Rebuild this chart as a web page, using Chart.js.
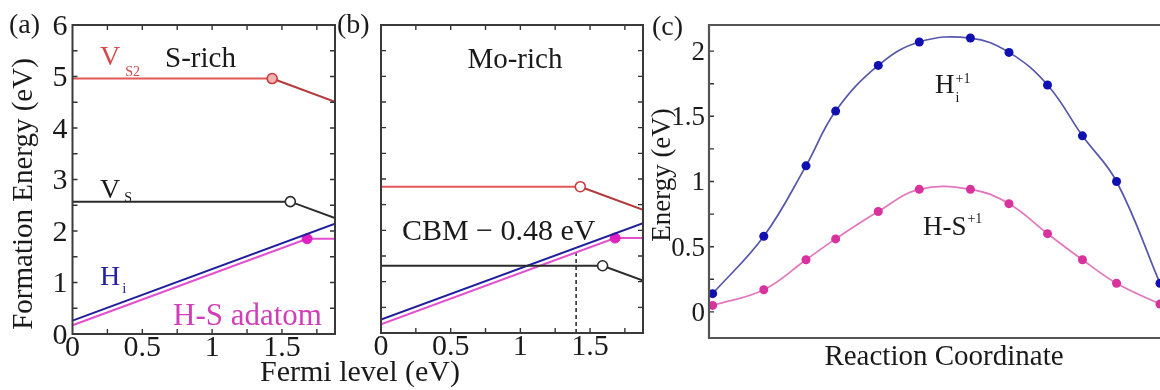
<!DOCTYPE html>
<html>
<head>
<meta charset="utf-8">
<script src="https://cdn.jsdelivr.net/npm/chart.js@4.4.1/dist/chart.umd.min.js"></script>
<style>
  html, body { margin: 0; padding: 0; background: #fff; overflow: hidden; width: 1160px; height: 390px; }
  canvas { position: absolute; left: 0; top: 0; }
</style>
</head>
<body>
<canvas id="panelA" width="1160" height="390"></canvas>
<canvas id="panelB" width="1160" height="390"></canvas>
<canvas id="panelC" width="1200" height="390"></canvas>
<script>
// ---- Fermi-level axes (panels a, b) ----
const fermiMax = 1.88;
const fermiTicks = [0, 0.5, 1, 1.5];
const fermiMinorTicks = [0.25, 0.5, 0.75, 1, 1.25, 1.5, 1.75];
const formationTicks = [0, 1, 2, 3, 4, 5, 6];
const formationMinorTicks = [0.5, 1, 1.5, 2, 2.5, 3, 3.5, 4, 4.5, 5, 5.5];

// S-rich formation energies (eV) vs Fermi level (eV)
const vs2FermiA = [0, 1.43, 1.88];
const vs2EnergyA = [4.96, 4.96, 4.51];
const vsFermiA = [0, 1.56, 1.88];
const vsEnergyA = [2.57, 2.57, 2.25];

// Mo-rich formation energies (eV)
const vs2FermiB = [0, 1.43, 1.88];
const vs2EnergyB = [2.85, 2.85, 2.40];
const vsFermiB = [0, 1.59, 1.88];
const vsEnergyB = [1.31, 1.31, 1.02];

// Hydrogen defects (same in both limits)
const hiFermi = [0, 1.88];
const hiEnergy = [0.26, 2.14];
const hsFermi = [0, 1.68, 1.88];
const hsEnergy = [0.17, 1.85, 1.85];

// CBM - 0.48 eV marker
const cbmMarkFermi = [1.40, 1.40];
const cbmMarkEnergy = [0, 1.56];

// ---- Migration barriers (panel c) ----
const reactionCoord = [0, 1.26, 2.30, 3.03, 4.08, 5.09, 6.35, 7.30, 8.25, 9.11, 9.95, 11.02];
const hiBarrier = [0.14, 0.58, 1.12, 1.54, 1.89, 2.07, 2.10, 1.99, 1.74, 1.35, 1.00, 0.22];
const hsBarrier = [0.05, 0.17, 0.40, 0.56, 0.77, 0.94, 0.94, 0.83, 0.60, 0.40, 0.22, 0.06];
const barrierTicks = [0, 0.5, 1, 1.5, 2];
const barrierMinorTicks = [0, 0.25, 0.5, 0.75, 1, 1.25, 1.5, 1.75, 2];

const FONT = '"Liberation Serif", "Times New Roman", serif';
const zip = (xs, ys) => xs.map((x, i) => ({ x, y: ys[i] }));

// Draws a sequence of text runs (for sub/superscripts)
function drawRuns(ctx, x, y, runs, color) {
  let cx = x;
  for (const r of runs) {
    ctx.font = `${r.size}px ${FONT}`;
    ctx.fillStyle = r.color || color;
    ctx.fillText(r.t, cx + (r.dx || 0), y + (r.dy || 0));
    if (!r.stay) cx += (r.dx || 0) + ctx.measureText(r.t).width;
  }
}

// Box frame, inward ticks and tick labels
const framePlugin = {
  id: 'frame',
  afterDatasetsDraw(chart, args, o) {
    const { ctx, chartArea: a, scales: { x, y } } = chart;
    ctx.save();
    ctx.strokeStyle = o.color;
    ctx.lineWidth = o.tickWidth;
    const L = o.tickLen;
    ctx.beginPath();
    for (const v of (o.xMinor || [])) {
      const px = x.getPixelForValue(v);
      if (o.tickSides.includes('bottom')) { ctx.moveTo(px, a.bottom); ctx.lineTo(px, a.bottom - L); }
      if (o.tickSides.includes('top')) { ctx.moveTo(px, a.top); ctx.lineTo(px, a.top + L); }
    }
    for (const v of (o.yMinor || [])) {
      const py = y.getPixelForValue(v);
      if (o.tickSides.includes('left')) { ctx.moveTo(a.left, py); ctx.lineTo(a.left + L, py); }
      if (o.tickSides.includes('right')) { ctx.moveTo(a.right, py); ctx.lineTo(a.right - L, py); }
    }
    ctx.stroke();

    ctx.lineWidth = o.borderWidth;
    ctx.strokeStyle = o.borderColor;
    ctx.beginPath();
    if (o.sides.includes('top')) { ctx.moveTo(a.left, a.top); ctx.lineTo(a.right, a.top); }
    if (o.sides.includes('bottom')) { ctx.moveTo(a.left, a.bottom); ctx.lineTo(a.right, a.bottom); }
    if (o.sides.includes('left')) { ctx.moveTo(a.left, a.top - o.borderWidth / 2); ctx.lineTo(a.left, a.bottom + o.borderWidth / 2); }
    if (o.sides.includes('right')) { ctx.moveTo(a.right, a.top - o.borderWidth / 2); ctx.lineTo(a.right, a.bottom + o.borderWidth / 2); }
    ctx.stroke();

    ctx.fillStyle = o.textColor;
    ctx.font = `${o.labelSize}px ${FONT}`;
    if (o.xLabels) {
      ctx.textAlign = 'center';
      ctx.textBaseline = 'alphabetic';
      for (const v of o.xLabels) ctx.fillText(String(v), x.getPixelForValue(v), a.bottom + o.xLabelDrop);
    }
    if (o.yLabels) {
      ctx.textAlign = 'right';
      ctx.textBaseline = 'alphabetic';
      for (const v of o.yLabels) ctx.fillText(String(v), a.left - o.yLabelGap, y.getPixelForValue(v) + o.labelSize * 0.33);
    }
    ctx.restore();
  },
  afterDraw(chart, args, o) {
    const { ctx, scales: { x, y } } = chart;
    ctx.save();
    ctx.textBaseline = 'alphabetic';
    for (const it of (o.notes || [])) {
      ctx.save();
      const px = it.data ? x.getPixelForValue(it.data[0]) : it.px[0];
      const py = it.data ? y.getPixelForValue(it.data[1]) : it.px[1];
      ctx.translate(px, py);
      if (it.rot) ctx.rotate(it.rot);
      ctx.textAlign = it.align || 'left';
      if (it.align === 'center') ctx.textBaseline = 'middle';
      drawRuns(ctx, 0, 0, it.runs, it.color || o.textColor);
      ctx.restore();
    }
    ctx.restore();
  }
};
Chart.register(framePlugin);

function baseOptions(padding, xr, yr, frame) {
  return {
    responsive: false,
    animation: false,
    events: [],
    layout: { padding },
    plugins: { legend: { display: false }, tooltip: { enabled: false }, frame },
    scales: {
      x: { type: 'linear', display: false, min: xr[0], max: xr[1] },
      y: { type: 'linear', display: false, min: yr[0], max: yr[1] }
    }
  };
}

const RED = '#e25757', RED_DARK = '#b23a3a', BLACK = '#2b2b2b', BLUE = '#1f1f9c', MAG = '#e24fcf';

function seg(xs, ys, color, opts = {}) {
  return Object.assign({
    data: zip(xs, ys),
    borderColor: color,
    borderWidth: 2,
    pointRadius: 0,
    fill: false,
    tension: 0
  }, opts);
}
function marker(n, idx, r) { return Array.from({ length: n }, (_, i) => (i === idx ? r : 0)); }

const abFrame = (yLabels, notes) => ({
  color: '#333', tickWidth: 1.4, tickLen: 5, borderWidth: 2, borderColor: '#3a3a3a',
  sides: ['top', 'bottom', 'left', 'right'], tickSides: ['top', 'bottom', 'left', 'right'],
  xMinor: fermiMinorTicks, yMinor: formationMinorTicks,
  xLabels: fermiTicks, yLabels, labelSize: 30, xLabelDrop: 22, yLabelGap: 5,
  textColor: '#1a1a1a', notes
});

function defectDatasets(vs2F, vs2E, vsF, vsE, circleFill) {
  return [
    seg(vs2F, vs2E, RED, {
      segment: { borderColor: c => (c.p0DataIndex >= 1 ? RED_DARK : RED) },
      pointRadius: marker(3, 1, 5), pointBorderColor: '#c83c3c', pointBackgroundColor: circleFill, pointBorderWidth: 1.6
    }),
    seg(vsF, vsE, BLACK, {
      pointRadius: marker(3, 1, 5), pointBorderColor: BLACK, pointBackgroundColor: '#fff', pointBorderWidth: 1.6
    }),
    seg(hiFermi, hiEnergy, BLUE),
    seg(hsFermi, hsEnergy, MAG, {
      pointRadius: marker(3, 1, 5), pointBorderColor: '#e020c0', pointBackgroundColor: '#e020c0', pointBorderWidth: 1
    })
  ];
}

// (a) S-rich
new Chart(document.getElementById('panelA'), {
  type: 'line',
  data: { datasets: defectDatasets(vs2FermiA, vs2EnergyA, vsFermiA, vsEnergyA, '#f2b3b3') },
  options: baseOptions({ left: 72.5, right: 1160 - 335, top: 25, bottom: 56 }, [0, fermiMax], [0, 6],
    abFrame(formationTicks, [
      { data: [0.197, 5.22], color: '#d84848', runs: [{ t: 'V', size: 28 }, { t: 'S2', size: 14, dx: 5, dy: 11 }] },
      { data: [0.663, 5.18], runs: [{ t: 'S-rich', size: 29 }] },
      { data: [0.197, 2.65], runs: [{ t: 'V', size: 28 }, { t: 'S', size: 14, dx: 4, dy: 4 }] },
      { data: [0.197, 0.95], color: '#2424a0', runs: [{ t: 'H', size: 28 }, { t: 'i', size: 15, dx: 2, dy: 8 }] },
      { data: [0.72, 0.175], color: '#d23db8', runs: [{ t: 'H-S adatom', size: 31 }] },
      { px: [9, 33], runs: [{ t: '(a)', size: 28 }] },
      { px: [24, 194], rot: -Math.PI / 2, align: 'center', runs: [{ t: 'Formation Energy (eV)', size: 29 }] },
      { px: [360, 373], align: 'center', runs: [{ t: 'Fermi level (eV)', size: 30 }] }
    ]))
});

// (b) Mo-rich
const datasetsB = defectDatasets(vs2FermiB, vs2EnergyB, vsFermiB, vsEnergyB, '#fff');
datasetsB.push(seg(cbmMarkFermi, cbmMarkEnergy, '#222', { borderWidth: 1.5, borderDash: [4, 3] }));
new Chart(document.getElementById('panelB'), {
  type: 'line',
  data: { datasets: datasetsB },
  options: baseOptions({ left: 381, right: 1160 - 643, top: 25, bottom: 57 }, [0, fermiMax], [0, 6],
    abFrame(null, [
      { data: [0.62, 5.16], runs: [{ t: 'Mo-rich', size: 29 }] },
      { data: [0.15, 1.81], runs: [{ t: 'CBM \u2212 0.48 eV', size: 30 }] },
      { px: [337, 33], runs: [{ t: '(b)', size: 28 }] }
    ]))
});

// (c) migration barriers
new Chart(document.getElementById('panelC'), {
  type: 'line',
  data: {
    datasets: [
      {
        data: zip(reactionCoord, hiBarrier), borderColor: '#5757aa', borderWidth: 1.7, tension: 0.4,
        pointRadius: 4.5, pointBackgroundColor: '#1010b0', pointBorderColor: '#1010b0', pointBorderWidth: 0, fill: false
      },
      {
        data: zip(reactionCoord, hsBarrier), borderColor: '#e277bd', borderWidth: 1.7, tension: 0.4,
        pointRadius: 4.5, pointBackgroundColor: '#d8339c', pointBorderColor: '#d8339c', pointBorderWidth: 0, fill: false
      }
    ]
  },
  options: baseOptions({ left: 709, right: 10, top: 25, bottom: 52 }, [-0.09, 11.76], [-0.2, 2.2], {
    color: '#333', tickWidth: 1.4, tickLen: 5, borderWidth: 2.2, borderColor: '#555',
    sides: ['top', 'bottom', 'left'], tickSides: ['left'],
    xMinor: [], yMinor: barrierMinorTicks,
    xLabels: null, yLabels: barrierTicks, labelSize: 27, yLabelGap: 4,
    textColor: '#1a1a1a',
    notes: [
      { data: [5.48, 1.68], runs: [{ t: 'H', size: 27 }, { t: 'i', size: 14, dx: 1, dy: 9, stay: true }, { t: '+1', size: 14, dx: 1, dy: -10 }] },
      { data: [5.18, 0.59], runs: [{ t: 'H-S', size: 27 }, { t: '+1', size: 14, dx: 1, dy: -12 }] },
      { px: [652, 35], runs: [{ t: '(c)', size: 28 }] },
      { px: [663, 175], rot: -Math.PI / 2, align: 'center', runs: [{ t: 'Energy (eV)', size: 27 }] },
      { px: [944, 357], align: 'center', runs: [{ t: 'Reaction Coordinate', size: 29 }] }
    ]
  })
});
</script>
</body>
</html>
